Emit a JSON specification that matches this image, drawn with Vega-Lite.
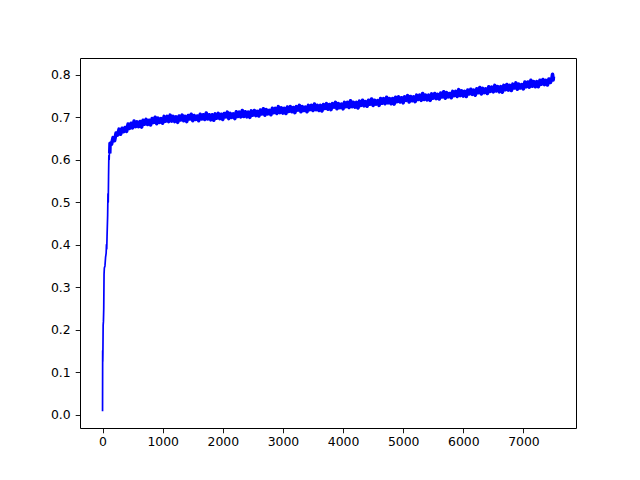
{
"$schema": "https://vega.github.io/schema/vega-lite/v6.json",
"width": 496, "height": 370,
"autosize": {"type": "none"},
"padding": {"left": 80, "top": 58, "right": 64, "bottom": 52},
"config": {
 "view": {"stroke": "#000", "strokeWidth": 1},
 "axis": {"domain": false, "grid": false, "ticks": true, "tickColor": "#000", "tickSize": 4.8, "tickWidth": 0.9, "labelFont": "DejaVu Sans", "labelFontSize": 12.4, "labelColor": "#000", "title": null}
},
"data": {"values": [
{"x":0,"y":0.008},{"x":2,"y":0.15},{"x":4,"y":0.125},{"x":6,"y":0.145},{"x":10,"y":0.21},{"x":15,"y":0.22},{"x":20,"y":0.25},{"x":25,"y":0.33},{"x":30,"y":0.345},{"x":40,"y":0.35},{"x":50,"y":0.37},{"x":60,"y":0.38},{"x":65,"y":0.40},{"x":70,"y":0.39},{"x":75,"y":0.42},{"x":85,"y":0.47},{"x":90,"y":0.52},{"x":95,"y":0.50},{"x":100,"y":0.56},{"x":105,"y":0.61},{"x":110,"y":0.60},{"x":115,"y":0.622},{"x":120,"y":0.615},
{"x":125,"y":0.639},{"x":150,"y":0.637},{"x":175,"y":0.652},{"x":200,"y":0.645},{"x":225,"y":0.663},{"x":250,"y":0.658},{"x":275,"y":0.672},{"x":300,"y":0.660},{"x":325,"y":0.674},{"x":350,"y":0.666},{"x":375,"y":0.676},{"x":400,"y":0.667},{"x":425,"y":0.684},{"x":450,"y":0.674},{"x":475,"y":0.686},{"x":500,"y":0.675},{"x":525,"y":0.691},{"x":550,"y":0.678},{"x":575,"y":0.689},{"x":600,"y":0.678},{"x":625,"y":0.690},{"x":650,"y":0.677},{"x":675,"y":0.693},{"x":700,"y":0.684},
{"x":725,"y":0.695},{"x":750,"y":0.683},{"x":775,"y":0.693},{"x":800,"y":0.682},{"x":825,"y":0.697},{"x":850,"y":0.688},{"x":875,"y":0.700},{"x":900,"y":0.685},{"x":925,"y":0.698},{"x":950,"y":0.688},{"x":975,"y":0.697},{"x":1000,"y":0.686},{"x":1025,"y":0.702},{"x":1050,"y":0.691},{"x":1075,"y":0.702},{"x":1100,"y":0.690},{"x":1125,"y":0.705},{"x":1150,"y":0.691},{"x":1175,"y":0.702},{"x":1200,"y":0.690},{"x":1225,"y":0.701},{"x":1250,"y":0.688},{"x":1275,"y":0.703},{"x":1300,"y":0.694},
{"x":1325,"y":0.705},{"x":1350,"y":0.692},{"x":1375,"y":0.702},{"x":1400,"y":0.690},{"x":1425,"y":0.704},{"x":1450,"y":0.696},{"x":1475,"y":0.707},{"x":1500,"y":0.692},{"x":1525,"y":0.704},{"x":1550,"y":0.695},{"x":1575,"y":0.703},{"x":1600,"y":0.692},{"x":1625,"y":0.707},{"x":1650,"y":0.696},{"x":1675,"y":0.706},{"x":1700,"y":0.695},{"x":1725,"y":0.710},{"x":1750,"y":0.696},{"x":1775,"y":0.706},{"x":1800,"y":0.694},{"x":1825,"y":0.706},{"x":1850,"y":0.693},{"x":1875,"y":0.708},{"x":1900,"y":0.698},
{"x":1925,"y":0.709},{"x":1950,"y":0.697},{"x":1975,"y":0.707},{"x":2000,"y":0.695},{"x":2025,"y":0.709},{"x":2050,"y":0.701},{"x":2075,"y":0.712},{"x":2100,"y":0.697},{"x":2125,"y":0.709},{"x":2150,"y":0.700},{"x":2175,"y":0.708},{"x":2200,"y":0.697},{"x":2225,"y":0.713},{"x":2250,"y":0.702},{"x":2275,"y":0.712},{"x":2300,"y":0.701},{"x":2325,"y":0.716},{"x":2350,"y":0.702},{"x":2375,"y":0.713},{"x":2400,"y":0.701},{"x":2425,"y":0.712},{"x":2450,"y":0.700},{"x":2475,"y":0.715},{"x":2500,"y":0.705},
{"x":2525,"y":0.716},{"x":2550,"y":0.704},{"x":2575,"y":0.714},{"x":2600,"y":0.703},{"x":2625,"y":0.717},{"x":2650,"y":0.708},{"x":2675,"y":0.720},{"x":2700,"y":0.705},{"x":2725,"y":0.718},{"x":2750,"y":0.708},{"x":2775,"y":0.716},{"x":2800,"y":0.706},{"x":2825,"y":0.721},{"x":2850,"y":0.711},{"x":2875,"y":0.721},{"x":2900,"y":0.709},{"x":2925,"y":0.725},{"x":2950,"y":0.711},{"x":2975,"y":0.722},{"x":3000,"y":0.710},{"x":3025,"y":0.721},{"x":3050,"y":0.709},{"x":3075,"y":0.724},{"x":3100,"y":0.714},
{"x":3125,"y":0.725},{"x":3150,"y":0.713},{"x":3175,"y":0.723},{"x":3200,"y":0.711},{"x":3225,"y":0.725},{"x":3250,"y":0.717},{"x":3275,"y":0.728},{"x":3300,"y":0.713},{"x":3325,"y":0.725},{"x":3350,"y":0.716},{"x":3375,"y":0.724},{"x":3400,"y":0.713},{"x":3425,"y":0.728},{"x":3450,"y":0.718},{"x":3475,"y":0.728},{"x":3500,"y":0.716},{"x":3525,"y":0.731},{"x":3550,"y":0.718},{"x":3575,"y":0.728},{"x":3600,"y":0.716},{"x":3625,"y":0.728},{"x":3650,"y":0.715},{"x":3675,"y":0.730},{"x":3700,"y":0.721},
{"x":3725,"y":0.732},{"x":3750,"y":0.719},{"x":3775,"y":0.730},{"x":3800,"y":0.718},{"x":3825,"y":0.732},{"x":3850,"y":0.724},{"x":3875,"y":0.735},{"x":3900,"y":0.720},{"x":3925,"y":0.732},{"x":3950,"y":0.723},{"x":3975,"y":0.731},{"x":4000,"y":0.720},{"x":4025,"y":0.735},{"x":4050,"y":0.725},{"x":4075,"y":0.735},{"x":4100,"y":0.723},{"x":4125,"y":0.739},{"x":4150,"y":0.725},{"x":4175,"y":0.735},{"x":4200,"y":0.724},{"x":4225,"y":0.735},{"x":4250,"y":0.722},{"x":4275,"y":0.738},{"x":4300,"y":0.728},
{"x":4325,"y":0.740},{"x":4350,"y":0.727},{"x":4375,"y":0.737},{"x":4400,"y":0.726},{"x":4425,"y":0.740},{"x":4450,"y":0.731},{"x":4475,"y":0.743},{"x":4500,"y":0.728},{"x":4525,"y":0.740},{"x":4550,"y":0.731},{"x":4575,"y":0.739},{"x":4600,"y":0.728},{"x":4625,"y":0.744},{"x":4650,"y":0.733},{"x":4675,"y":0.744},{"x":4700,"y":0.732},{"x":4725,"y":0.747},{"x":4750,"y":0.734},{"x":4775,"y":0.744},{"x":4800,"y":0.732},{"x":4825,"y":0.744},{"x":4850,"y":0.731},{"x":4875,"y":0.747},{"x":4900,"y":0.737},
{"x":4925,"y":0.748},{"x":4950,"y":0.736},{"x":4975,"y":0.746},{"x":5000,"y":0.734},{"x":5025,"y":0.748},{"x":5050,"y":0.740},{"x":5075,"y":0.751},{"x":5100,"y":0.736},{"x":5125,"y":0.749},{"x":5150,"y":0.739},{"x":5175,"y":0.748},{"x":5200,"y":0.737},{"x":5225,"y":0.752},{"x":5250,"y":0.742},{"x":5275,"y":0.752},{"x":5300,"y":0.740},{"x":5325,"y":0.756},{"x":5350,"y":0.742},{"x":5375,"y":0.752},{"x":5400,"y":0.741},{"x":5425,"y":0.752},{"x":5450,"y":0.740},{"x":5475,"y":0.755},{"x":5500,"y":0.745},
{"x":5525,"y":0.756},{"x":5550,"y":0.744},{"x":5575,"y":0.754},{"x":5600,"y":0.743},{"x":5625,"y":0.757},{"x":5650,"y":0.748},{"x":5675,"y":0.760},{"x":5700,"y":0.745},{"x":5725,"y":0.758},{"x":5750,"y":0.748},{"x":5775,"y":0.756},{"x":5800,"y":0.746},{"x":5825,"y":0.761},{"x":5850,"y":0.751},{"x":5875,"y":0.761},{"x":5900,"y":0.749},{"x":5925,"y":0.765},{"x":5950,"y":0.751},{"x":5975,"y":0.762},{"x":6000,"y":0.750},{"x":6025,"y":0.761},{"x":6050,"y":0.749},{"x":6075,"y":0.764},{"x":6100,"y":0.755},
{"x":6125,"y":0.766},{"x":6150,"y":0.754},{"x":6175,"y":0.764},{"x":6200,"y":0.752},{"x":6225,"y":0.767},{"x":6250,"y":0.758},{"x":6275,"y":0.770},{"x":6300,"y":0.755},{"x":6325,"y":0.768},{"x":6350,"y":0.758},{"x":6375,"y":0.767},{"x":6400,"y":0.756},{"x":6425,"y":0.772},{"x":6450,"y":0.761},{"x":6475,"y":0.771},{"x":6500,"y":0.760},{"x":6525,"y":0.775},{"x":6550,"y":0.762},{"x":6575,"y":0.772},{"x":6600,"y":0.760},{"x":6625,"y":0.772},{"x":6650,"y":0.759},{"x":6675,"y":0.775},{"x":6700,"y":0.765},
{"x":6725,"y":0.777},{"x":6750,"y":0.764},{"x":6775,"y":0.775},{"x":6800,"y":0.763},{"x":6825,"y":0.778},{"x":6850,"y":0.769},{"x":6875,"y":0.781},{"x":6900,"y":0.766},{"x":6925,"y":0.778},{"x":6950,"y":0.769},{"x":6975,"y":0.777},{"x":7000,"y":0.767},{"x":7025,"y":0.783},{"x":7050,"y":0.772},{"x":7075,"y":0.783},{"x":7100,"y":0.771},{"x":7125,"y":0.787},{"x":7150,"y":0.773},{"x":7175,"y":0.784},{"x":7200,"y":0.772},{"x":7225,"y":0.784},{"x":7250,"y":0.772},{"x":7275,"y":0.787},{"x":7300,"y":0.778},
{"x":7325,"y":0.789},{"x":7350,"y":0.777},{"x":7375,"y":0.787},{"x":7400,"y":0.776},{"x":7425,"y":0.790},{"x":7450,"y":0.782},{"x":7475,"y":0.792},{"x":7485,"y":0.801},{"x":7495,"y":0.788},{"x":7500,"y":0.796}
]},
"encoding": {
 "x": {"field": "x", "type": "quantitative", "scale": {"domain": [-375, 7875], "nice": false, "zero": false}, "axis": {"values": [0,1000,2000,3000,4000,5000,6000,7000], "format": "d", "labelPadding": 3}},
 "y": {"field": "y", "type": "quantitative", "scale": {"domain": [-0.0316, 0.8396], "nice": false, "zero": false}, "axis": {"values": [0,0.1,0.2,0.3,0.4,0.5,0.6,0.7,0.8], "format": ".1f", "labelPadding": 5}}
},
"layer": [
 {"transform": [{"filter": "datum.x <= 125"}], "mark": {"type": "line", "color": "#0000ff", "strokeWidth": 1.7, "strokeJoin": "round", "clip": true}},
 {"transform": [{"filter": "datum.x >= 120"}], "mark": {"type": "line", "color": "#0000ff", "strokeWidth": 3.6, "strokeJoin": "round", "clip": true}}
]
}
